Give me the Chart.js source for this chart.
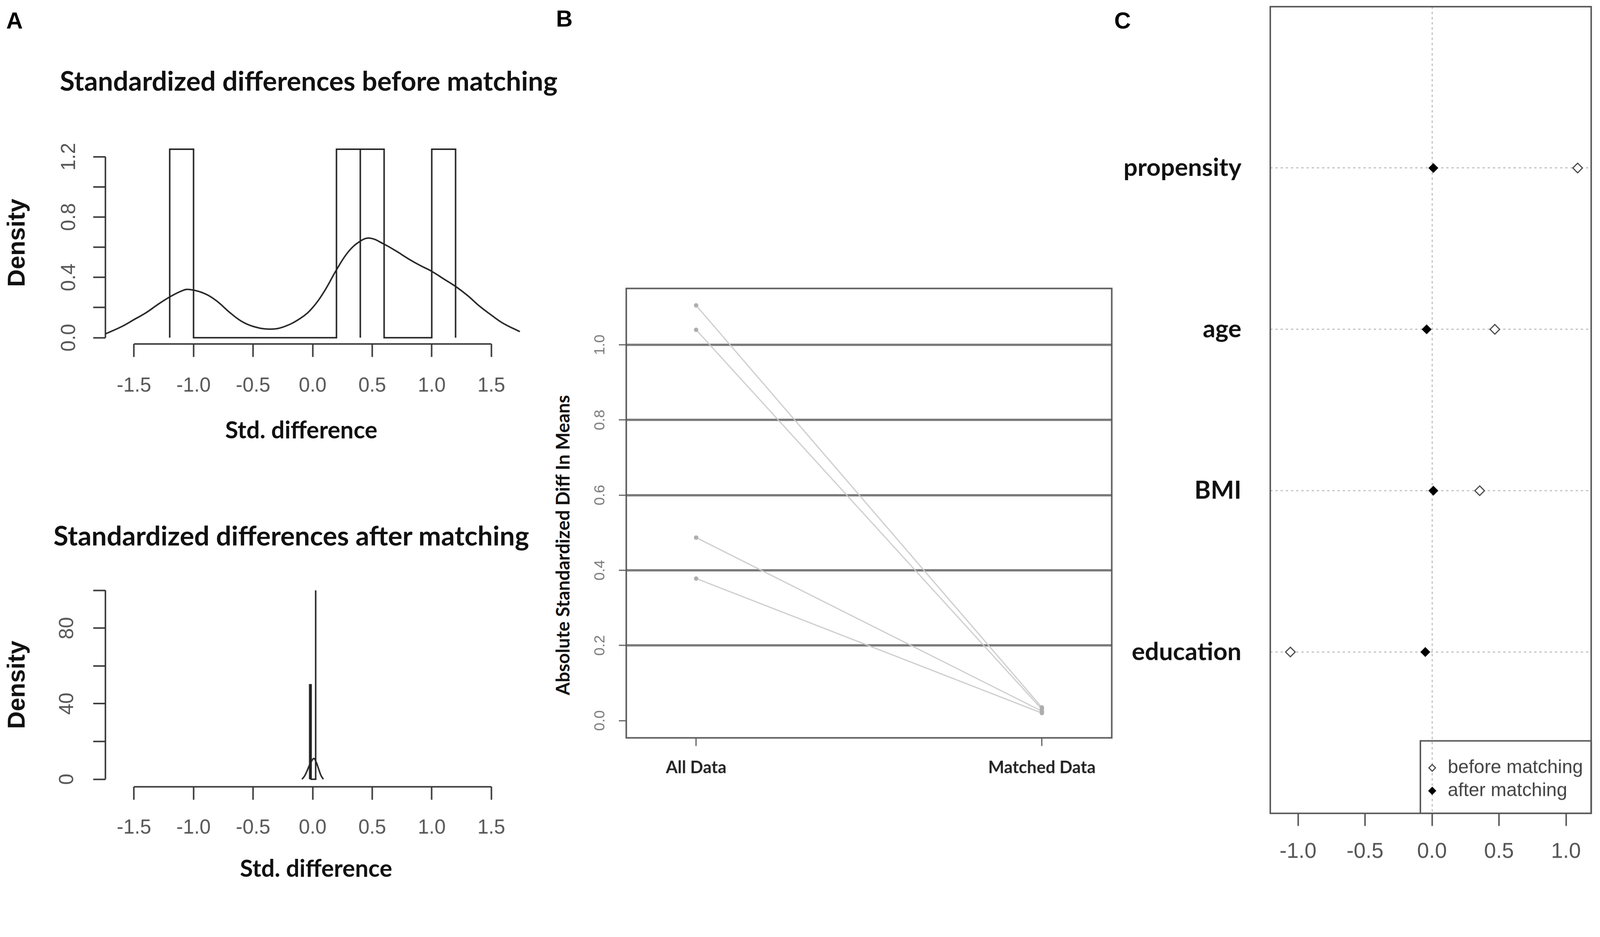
<!DOCTYPE html>
<html>
<head>
<meta charset="utf-8">
<script src="https://cdn.jsdelivr.net/npm/chart.js@4.4.1/dist/chart.umd.min.js"></script>
<style>
  html, body { margin: 0; padding: 0; background: #fff; overflow: hidden; }
  #page { width: 4328px; height: 2398px; position: absolute; left: 0; top: 0; transform-origin: 0 0; background: #fff; }
  canvas, .txt { position: absolute; }
  .letter { font: bold 62px "Liberation Sans", Arial, sans-serif; line-height: 1; color: #000; }
  .title { font: bold 73px Lato, sans-serif; line-height: 1; text-align: center; white-space: nowrap; color: #111; }
  .xtitle { font: bold 64px Lato, sans-serif; line-height: 1; text-align: center; white-space: nowrap; color: #111; }
  .ytitle { font: bold 50px Lato, sans-serif; line-height: 1; white-space: nowrap; color: #111;
            transform: translate(-50%, -50%) rotate(-90deg); }
</style>
</head>
<body>
<div id="page">
<div class="txt letter" style="left:17px;top:25px">A</div>
<div class="txt letter" style="left:1504px;top:20px">B</div>
<div class="txt letter" style="left:3014px;top:25px">C</div>

<div class="txt title" style="left:0;top:181px;width:1670px">Standardized differences before matching</div>
<div class="txt title" style="left:0;top:1411px;width:1576px">Standardized differences after matching</div>
<div class="txt xtitle" style="left:0;top:1130px;width:1630px">Std. difference</div>
<div class="txt xtitle" style="left:0;top:2315px;width:1710px">Std. difference</div>
<div class="txt ytitle" style="left:1522px;top:1474px">Absolute Standardized Diff In Means</div>

<canvas id="aTop" width="1500" height="1000" style="left:0;top:300px;width:1500px;height:1000px"></canvas>
<canvas id="aBot" width="1500" height="898" style="left:0;top:1500px;width:1500px;height:898px"></canvas>
<canvas id="bPlot" width="1600" height="1450" style="left:1450px;top:700px;width:1600px;height:1450px"></canvas>
<canvas id="cPlot" width="1378" height="2398" style="left:2950px;top:0;width:1378px;height:2398px"></canvas>
</div>

<script>
// fit the 4328x2398 page into whatever the viewport really is
var fit = Math.min(window.innerWidth / 4328, window.innerHeight / 2398);
document.getElementById('page').style.transform = 'scale(' + fit + ')';
var dpr = (window.devicePixelRatio || 1) * fit;

Chart.defaults.font.family = '"Liberation Sans", Arial, sans-serif';

// ---- panel A : before matching ----
var stdTicks = [-1.5, -1.0, -0.5, 0.0, 0.5, 1.0, 1.5];
var binsBefore = [[-1.2, -1.0], [0.2, 0.4], [0.4, 0.6], [1.0, 1.2]];
var histBefore = [1.25, 1.25, 1.25, 1.25];
var densBeforeX = [-1.74, -1.6, -1.5, -1.4, -1.3, -1.2, -1.1, -1.04, -0.9, -0.8, -0.7, -0.6, -0.5, -0.37,
                   -0.25, -0.1, 0.0, 0.1, 0.2, 0.3, 0.4, 0.48, 0.6, 0.7, 0.8, 0.9, 1.0, 1.1, 1.2, 1.3, 1.4, 1.5, 1.6, 1.74];
var densBeforeY = [0.025, 0.075, 0.12, 0.165, 0.22, 0.27, 0.31, 0.32, 0.29, 0.24, 0.17, 0.11, 0.075, 0.057,
                   0.07, 0.13, 0.2, 0.31, 0.45, 0.57, 0.64, 0.66, 0.62, 0.575, 0.525, 0.48, 0.44, 0.39, 0.34, 0.28, 0.21, 0.15, 0.095, 0.04];
var densTicksBefore = [0, 0.2, 0.4, 0.6, 0.8, 1.0, 1.2];
var densLabelsBefore = [0, 0.4, 0.8, 1.2];

// ---- panel A : after matching ----
var binsAfter = [[-0.025, -0.013], [0.024, 0.026]];
var histAfter = [50, 100];
var densAfterX = [-0.09, -0.07, -0.05, -0.03, -0.01, 0.01, 0.03, 0.05, 0.07, 0.09];
var densAfterY = [0, 1.5, 4, 7, 9.5, 11, 9, 5.5, 2, 0];
var densTicksAfter = [0, 20, 40, 60, 80, 100];
var densLabelsAfter = [0, 40, 80];

// ---- panel B ----
var balanceCats = ['All Data', 'Matched Data'];
var absDiffAll = [1.105, 1.04, 0.487, 0.378];
var absDiffMatched = [0.035, 0.03, 0.025, 0.02];
var absTicks = [0, 0.2, 0.4, 0.6, 0.8, 1.0];

// ---- panel C ----
var covariates = ['education', 'BMI', 'age', 'propensity'];   // bottom to top
var beforeMatching = [-1.057, 0.356, 0.469, 1.087];
var afterMatching = [-0.05, 0.01, -0.04, 0.01];
var meanDiffTicks = [-1.0, -0.5, 0.0, 0.5, 1.0];

function histOutline(bins, heights) {
    var pts = [];
    bins.forEach(function (b, i) {
        pts.push({x: b[0], y: 0}, {x: b[0], y: heights[i]}, {x: b[1], y: heights[i]}, {x: b[1], y: 0});
    });
    return pts;
}
function xy(xs, ys) {
    return xs.map(function (v, i) { return {x: v, y: ys[i]}; });
}
function setTicks(vals) {
    return function (s) { s.ticks = vals.map(function (v) { return {value: v}; }); };
}

// R style axis: line only between first and last tick
var rAxisLine = {
    id: 'rAxisLine',
    afterDraw: function (chart) {
        var ctx = chart.ctx, a = chart.chartArea, xs = chart.scales.x, ys = chart.scales.y;
        var xt = xs.ticks, yt = ys.ticks;
        ctx.save();
        ctx.strokeStyle = '#333';
        ctx.lineWidth = 4;
        ctx.beginPath();
        ctx.moveTo(xs.getPixelForValue(xt[0].value), a.bottom);
        ctx.lineTo(xs.getPixelForValue(xt[xt.length - 1].value), a.bottom);
        ctx.moveTo(a.left, ys.getPixelForValue(yt[0].value));
        ctx.lineTo(a.left, ys.getPixelForValue(yt[yt.length - 1].value));
        ctx.stroke();
        ctx.restore();
    }
};

var boxPlugin = {
    id: 'boxPlugin',
    afterDraw: function (chart) {
        var ctx = chart.ctx, a = chart.chartArea;
        ctx.save();
        ctx.strokeStyle = '#555';
        ctx.lineWidth = 4;
        ctx.strokeRect(a.left, a.top, a.right - a.left, a.bottom - a.top);
        ctx.restore();
    }
};

function densityChart(id, o) {
    return new Chart(document.getElementById(id), {
        type: 'scatter',
        data: {
            datasets: [
                {data: histOutline(o.bins, o.hist), showLine: true, borderColor: '#222', borderWidth: 4, pointRadius: 0, tension: 0},
                {data: xy(o.dx, o.dy), showLine: true, borderColor: '#222', borderWidth: 4, pointRadius: 0, tension: 0.4}
            ]
        },
        options: {
            responsive: false,
            animation: false,
            devicePixelRatio: dpr,
            layout: {padding: {left: 0, right: 75, top: o.top, bottom: 0}},
            plugins: {legend: {display: false}, tooltip: {enabled: false}},
            scales: {
                x: {
                    type: 'linear', min: -1.74, max: 1.80,
                    afterBuildTicks: setTicks(stdTicks),
                    afterFit: function (s) { s.height = o.xh; },
                    grid: {drawOnChartArea: false, tickLength: 35, tickColor: '#333', tickWidth: 4},
                    border: {display: false},
                    ticks: {autoSkip: false, maxRotation: 0, padding: o.xpad, color: '#555', font: {size: 54},
                            callback: function (v) { return v.toFixed(1); }}
                },
                y: {
                    type: 'linear', min: o.ymin, max: o.ymax,
                    afterBuildTicks: setTicks(o.yticks),
                    afterFit: function (s) { s.width = 285; },
                    grid: {drawOnChartArea: false, tickLength: 33, tickColor: '#333', tickWidth: 4},
                    border: {display: false},
                    ticks: {autoSkip: false, minRotation: 90, maxRotation: 90, crossAlign: 'center', padding: o.ypad,
                            color: '#555', font: {size: 54},
                            callback: function (v) { return o.ylabels.indexOf(v) >= 0 ? o.yfmt(v) : ''; }},
                    title: {display: true, text: 'Density', color: '#111',
                            font: {weight: 'bold', size: 66}, padding: {top: 9, bottom: 0}}
                }
            }
        },
        plugins: [rAxisLine]
    });
}

densityChart('aTop', {
    bins: binsBefore, hist: histBefore, dx: densBeforeX, dy: densBeforeY,
    top: 83, xh: 370, xpad: 46,
    ymin: -0.042, ymax: 1.3, yticks: densTicksBefore, ylabels: densLabelsBefore, ypad: 26,
    yfmt: function (v) { return v.toFixed(1); }
});
densityChart('aBot', {
    bins: binsAfter, hist: histAfter, dx: densAfterX, dy: densAfterY,
    top: 76, xh: 271, xpad: 44,
    ymin: -4, ymax: 104, yticks: densTicksAfter, ylabels: densLabelsAfter, ypad: 39,
    yfmt: function (v) { return String(v); }
});

// ---- panel B ----
var bSets = absDiffAll.map(function (v, i) {
    return {
        data: [{x: 0, y: v}, {x: 1, y: absDiffMatched[i]}],
        showLine: true, borderColor: '#cacaca', borderWidth: 3,
        pointRadius: 6, pointBackgroundColor: '#adadad', pointBorderWidth: 0
    };
});
new Chart(document.getElementById('bPlot'), {
    type: 'scatter',
    data: {datasets: bSets},
    options: {
        responsive: false,
        animation: false,
        devicePixelRatio: dpr,
        layout: {padding: {left: 0, right: 43, top: 80, bottom: 0}},
        plugins: {legend: {display: false}, tooltip: {enabled: false}},
        scales: {
            x: {
                type: 'linear', min: -0.202, max: 1.202,
                afterBuildTicks: setTicks([0, 1]),
                afterFit: function (s) { s.height = 155; },
                grid: {drawOnChartArea: false, tickLength: 22, tickColor: '#555', tickWidth: 3},
                border: {display: false},
                ticks: {autoSkip: false, maxRotation: 0, padding: 31, color: '#222',
                        font: {family: 'Lato', weight: 'bold', size: 46},
                        callback: function (v) { return balanceCats[v]; }}
            },
            y: {
                type: 'linear', min: -0.046, max: 1.15,
                afterBuildTicks: setTicks(absTicks),
                afterFit: function (s) { s.width = 244; },
                grid: {
                    color: function (c) { return c.tick && c.tick.value === 0 ? 'rgba(0,0,0,0)' : '#777'; },
                    lineWidth: 6, tickLength: 20, tickColor: '#555', tickWidth: 3
                },
                border: {display: false},
                ticks: {autoSkip: false, minRotation: 90, maxRotation: 90, crossAlign: 'center', padding: 22,
                        color: '#777', font: {size: 40},
                        callback: function (v) { return v.toFixed(1); }}
            }
        }
    },
    plugins: [boxPlugin]
});

// ---- panel C ----
function drawDiamond(ctx, x, y, r, fill, stroke) {
    ctx.beginPath();
    ctx.moveTo(x, y - r); ctx.lineTo(x + r, y); ctx.lineTo(x, y + r); ctx.lineTo(x - r, y);
    ctx.closePath();
    ctx.fillStyle = fill; ctx.fill();
    ctx.strokeStyle = stroke; ctx.lineWidth = 3; ctx.stroke();
}
var cLegend = {
    id: 'cLegend',
    afterDraw: function (chart) {
        var ctx = chart.ctx, a = chart.chartArea;
        var w = 462, h = 196, left = a.right - w, top = a.bottom - h;
        ctx.save();
        ctx.strokeStyle = '#555';
        ctx.lineWidth = 4;
        ctx.strokeRect(left, top, w, h);
        ctx.font = '51px "Liberation Sans", Arial, sans-serif';
        ctx.textBaseline = 'middle';
        chart.data.datasets.forEach(function (ds, i) {
            var y = top + 73 + i * 62;
            drawDiamond(ctx, left + 32, y, 9, ds.backgroundColor, ds.borderColor);
            ctx.fillStyle = '#444';
            ctx.fillText(ds.label, left + 74, y);
        });
        ctx.restore();
    }
};
new Chart(document.getElementById('cPlot'), {
    type: 'scatter',
    data: {
        datasets: [
            {label: 'before matching', data: beforeMatching.map(function (v, i) { return {x: v, y: i + 1}; }),
             pointStyle: 'rectRot', pointRadius: 13, backgroundColor: '#fff', borderColor: '#444', borderWidth: 3},
            {label: 'after matching', data: afterMatching.map(function (v, i) { return {x: v, y: i + 1}; }),
             pointStyle: 'rectRot', pointRadius: 12, backgroundColor: '#000', borderColor: '#000', borderWidth: 2}
        ]
    },
    options: {
        responsive: false,
        animation: false,
        devicePixelRatio: dpr,
        layout: {padding: {left: 0, right: 24, top: 18, bottom: 0}},
        plugins: {legend: {display: false}, tooltip: {enabled: false}},
        scales: {
            x: {
                type: 'linear', min: -1.207, max: 1.188,
                afterBuildTicks: setTicks(meanDiffTicks),
                afterFit: function (s) { s.height = 199; },
                grid: {
                    color: function (c) { return c.tick && c.tick.value === 0 ? '#bbb' : 'rgba(0,0,0,0)'; },
                    lineWidth: 3, tickLength: 34, tickColor: '#555', tickWidth: 4
                },
                border: {display: false, dash: [6, 8]},
                ticks: {autoSkip: false, maxRotation: 0, padding: 35, color: '#555', font: {size: 58},
                        callback: function (v) { return v.toFixed(1); }}
            },
            y: {
                type: 'linear', min: 0, max: 5,
                afterBuildTicks: setTicks([1, 2, 3, 4]),
                afterFit: function (s) { s.width = 486; s.paddingTop = 0; s.paddingBottom = 0; },
                grid: {color: '#bbb', lineWidth: 3, drawTicks: false},
                border: {display: false, dash: [6, 8]},
                ticks: {autoSkip: false, padding: 78, color: '#111',
                        font: {family: 'Lato', weight: 'bold', size: 67},
                        callback: function (v) { return covariates[v - 1]; }}
            }
        }
    },
    plugins: [boxPlugin, cLegend]
});
</script>
</body>
</html>
